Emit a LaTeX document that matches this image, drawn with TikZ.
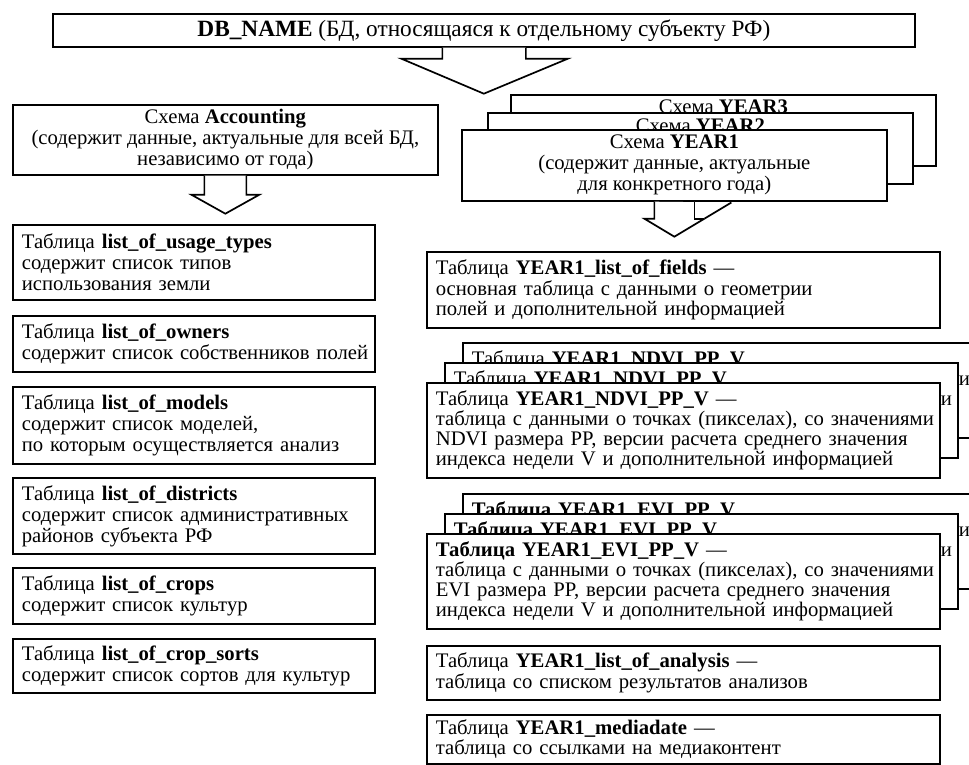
\documentclass[tikz,border=0pt]{standalone}
\usepackage{fontspec}
\setmainfont{Liberation Serif}
\usetikzlibrary{calc}
\newcommand\fz{\fontsize{20.7}{21}\selectfont}
\newcommand\fr{\fontsize{20.7}{20.2}\selectfont}
\newcommand\ftop{\fontsize{23.3}{24}\selectfont}
\newcommand\mb[1]{\mbox{#1}}
\tikzset{
  boxbase/.style={draw=black, line width=1.7pt, fill=white, inner sep=0pt, font=\fz},
  tbl/.style={boxbase, anchor=north west, align=left, inner xsep=9pt},
  ltbl/.style={tbl, text width=344pt},
  rtbl/.style={tbl, text width=495pt, font=\fr},
  schema/.style={boxbase, anchor=north west, align=center},
  yschema/.style={schema, minimum width=425pt, minimum height=71pt},
  barrow/.style={draw=black, line width=1.7pt, fill=white, line join=miter}
}
\begin{document}
\begin{tikzpicture}[x=1pt,y=-1pt]
\useasboundingbox (0,0) rectangle (969,765);
\clip (0,0) rectangle (969,765);

% top
\node[schema, minimum width=862pt, minimum height=33pt, font=\ftop] (db) at (52,13)
  {\textbf{DB\_NAME} (БД, относящаяся к отдельному субъекту РФ)};

% big arrow
\draw[barrow] ([xshift=-41.5pt]db.south) -- ++(0,11) -- ++(-41,0) -- ++(82.5,35)
  -- ++(84,-35) -- ++(-42,0) -- ++(0,-11);

% Accounting
\node[schema, minimum width=425pt, minimum height=70pt] (acc) at (12,104)
  {Схема \textbf{Accounting}\\(содержит данные, актуальные для всей БД,\\независимо от года)};
\draw[barrow] ([xshift=-21pt]acc.south) -- ++(0,19) -- ++(-13,0) -- ++(34,19)
  -- ++(34,-19) -- ++(-13,0) -- ++(0,-19);

% YEAR schemas
\node[yschema] (y3) at (510,94)
  {Схема \textbf{YEAR3}\\(содержит данные, актуальные\\для конкретного года)};
\node[yschema] (y2) at (487,112)
  {Схема \textbf{YEAR2}\\(содержит данные, актуальные\\для конкретного года)};
\node[yschema] (y1) at (461,129)
  {Схема \textbf{YEAR1}\\(содержит данные, актуальные\\для конкретного года)};
\draw[barrow] ([xshift=-20pt]y1.south) -- ++(0,17) -- ++(-10,0) -- ++(30,18) -- ++(57,-34.2);
\draw[barrow] ([xshift=20pt]y1.south) -- ++(0,17) -- ++(10,0);

% left tables
\node[ltbl, minimum height=75pt] (usage) at (12,224)
  {\mb{Таблица \textbf{list\_of\_usage\_types}}\\\mb{содержит список типов}\\\mb{использования земли}};
\node[ltbl, minimum height=56pt] (owners) at (12,315)
  {\mb{Таблица \textbf{list\_of\_owners}}\\\mb{содержит список собственников полей}};
\node[ltbl, minimum height=77pt] (models) at (12,386)
  {\mb{Таблица \textbf{list\_of\_models}}\\\mb{содержит список моделей,}\\\mb{по которым осуществляется анализ}};
\node[ltbl, minimum height=76pt] (districts) at (12,477)
  {\mb{Таблица \textbf{list\_of\_districts}}\\\mb{содержит список административных}\\\mb{районов субъекта РФ}};
\node[ltbl, minimum height=56pt] (crops) at (12,567)
  {\mb{Таблица \textbf{list\_of\_crops}}\\\mb{содержит список культур}};
\node[ltbl, minimum height=54pt] (sorts) at (12,638)
  {\mb{Таблица \textbf{list\_of\_crop\_sorts}}\\\mb{содержит список сортов для культур}};

% right tables
\node[rtbl, minimum height=76pt] (fields) at (426,251)
  {\mb{Таблица \textbf{YEAR1\_list\_of\_fields} —}\\\mb{основная таблица с данными о геометрии}\\\mb{полей и дополнительной информацией}};

\foreach \nm/\px/\py in {ndviC/462/342, ndviB/444/362}{
  \node[rtbl, minimum height=95pt] (\nm) at (\px,\py)
    {\mb{Таблица \textbf{YEAR1\_NDVI\_PP\_V}}\\\mb{таблица с данными о точках (пикселах), со значениями}\\\mb{NDVI размера PP, версии расчета среднего значения}\\\mb{индекса недели V и дополнительной информацией}};
}
\node[rtbl, minimum height=95pt] (ndviA) at (426,382)
  {\mb{Таблица \textbf{YEAR1\_NDVI\_PP\_V} —}\\\mb{таблица с данными о точках (пикселах), со значениями}\\\mb{NDVI размера PP, версии расчета среднего значения}\\\mb{индекса недели V и дополнительной информацией}};

\foreach \nm/\px/\py in {eviC/462/493, eviB/444/513}{
  \node[rtbl, minimum height=95pt] (\nm) at (\px,\py)
    {\mb{\textbf{Таблица YEAR1\_EVI\_PP\_V}}\\\mb{таблица с данными о точках (пикселах), со значениями}\\\mb{EVI размера PP, версии расчета среднего значения}\\\mb{индекса недели V и дополнительной информацией}};
}
\node[rtbl, minimum height=95pt] (eviA) at (426,533)
  {\mb{\textbf{Таблица YEAR1\_EVI\_PP\_V} —}\\\mb{таблица с данными о точках (пикселах), со значениями}\\\mb{EVI размера PP, версии расчета среднего значения}\\\mb{индекса недели V и дополнительной информацией}};

\node[rtbl, minimum height=54pt] (analysis) at (426,645)
  {\mb{Таблица \textbf{YEAR1\_list\_of\_analysis} —}\\\mb{таблица со списком результатов анализов}};
\node[rtbl, minimum height=49pt] (media) at (426,714)
  {\mb{Таблица \textbf{YEAR1\_mediadate} —}\\\mb{таблица со ссылками на медиаконтент}};
\end{tikzpicture}
\end{document}
